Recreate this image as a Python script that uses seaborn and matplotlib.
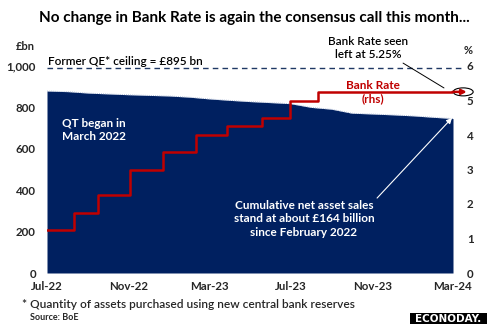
import matplotlib
matplotlib.use("Agg")
import matplotlib.pyplot as plt
import matplotlib.dates as mdates
from matplotlib.patches import Ellipse, Rectangle
import seaborn as sns
import pandas as pd

# ---- data ----
apf_months = pd.date_range("2022-07-01", "2024-03-01", freq="MS")
apf_stock = [879, 876, 869, 865, 861, 858, 855, 849, 841, 834, 828, 823,
             818, 800, 791, 772, 768, 764, 759, 752, 746]  # £bn

rate_dates = pd.to_datetime(["2022-07-01", "2022-08-10", "2022-09-16", "2022-11-02",
                             "2022-12-22", "2023-02-09", "2023-03-28", "2023-05-19",
                             "2023-07-01", "2023-08-12", "2024-03-01"])
bank_rate = [1.25, 1.75, 2.25, 3.0, 3.5, 4.0, 4.25, 4.5, 5.0, 5.25, 5.25]  # %

qe_ceiling_line = 990
xtick_dates = pd.to_datetime(["2022-07-01", "2022-11-01", "2023-03-01",
                              "2023-07-01", "2023-11-01", "2024-03-01"])
xtick_labels = ["Jul-22", "Nov-22", "Mar-23", "Jul-23", "Nov-23", "Mar-24"]
left_ticks = [0, 200, 400, 600, 800, 1000]
left_labels = ["0", "200", "400", "600", "800", "1,000"]
right_ticks = [0, 1, 2, 3, 4, 5, 6]

NAVY = "#002060"
RED = "#C00000"
FONT = ["Lato", "DejaVu Sans"]

sns.set_theme(style="white")
plt.rcParams["font.family"] = FONT

fig = plt.figure(figsize=(4.89, 3.26), dpi=100)
ax = fig.add_axes([47/489, 1-273/326, 406/489, 207/326])

df_apf = pd.DataFrame({"date": apf_months, "stock": apf_stock})
ax.fill_between(df_apf["date"], 0, df_apf["stock"], color=NAVY, linewidth=0)
sns.lineplot(data=df_apf, x="date", y="stock", ax=ax, color="#9fb0d0",
             linewidth=0.6, linestyle=(0, (1, 1.5)))

ax.set_xlim(apf_months[0], apf_months[-1])
ax.set_ylim(0, 1000)
ax.set_yticks(left_ticks)
ax.set_yticklabels(left_labels)
ax.set_xticks(xtick_dates)
ax.set_xticklabels(xtick_labels)
ax.set_xlabel("")
ax.set_ylabel("")
for s in ax.spines.values():
    s.set_visible(False)
ax.tick_params(axis="y", length=0, pad=8, labelsize=8.3)
ax.tick_params(axis="x", length=0, pad=6, labelsize=8.3)
for lab in ax.get_xticklabels() + ax.get_yticklabels():
    lab.set_fontweight("bold")

ax.axhline(qe_ceiling_line, xmin=0, xmax=1.022, color="#1F3864", lw=1,
           dashes=(4, 3), clip_on=False)

ax2 = ax.twinx()
df_rate = pd.DataFrame({"date": rate_dates, "rate": bank_rate})
sns.lineplot(data=df_rate, x="date", y="rate", ax=ax2, color=RED, linewidth=1.8,
             drawstyle="steps-post")
ax2.set_ylim(0, 6)
ax2.set_yticks(right_ticks)
ax2.set_xlabel("")
ax2.set_ylabel("")
for s in ax2.spines.values():
    s.set_visible(False)
ax2.tick_params(axis="y", length=0, pad=10, labelsize=8.3)
for lab in ax2.get_yticklabels():
    lab.set_fontweight("bold")
ax2.set_xlim(apf_months[0], apf_months[-1])

# red arrow and ellipse at the end
ytr = ax2.get_yaxis_transform()
ax2.annotate("", xy=(1.034, bank_rate[-1]), xytext=(0.999, bank_rate[-1]),
             xycoords=ytr, textcoords=ytr, annotation_clip=False,
             arrowprops=dict(arrowstyle="-|>", color=RED, lw=1.8,
                             mutation_scale=7, shrinkA=0, shrinkB=0))
ax2.add_patch(Ellipse((1.025, bank_rate[-1]), width=20/406, height=8/34.5,
                      transform=ytr, fill=False, edgecolor="black", lw=0.8,
                      clip_on=False))

# texts
fig.text(0.52, 1-18/326, "No change in Bank Rate is again the consensus call this month...",
         ha="center", va="center", fontsize=11, fontweight="bold", color="black")
fig.text(25/489, 1-47/326, "£bn", ha="center", va="center", fontsize=8, fontweight="bold")
fig.text(468/489, 1-50/326, "%", ha="center", va="center", fontsize=8, fontweight="bold")
ax.text(0.003, 1.02, "Former QE* ceiling = £895 bn", transform=ax.transAxes,
        ha="left", va="center", fontsize=8.5, fontweight="semibold", color="black")
ax.text(0.037, 0.691, "QT began in\nMarch 2022", transform=ax.transAxes, ha="left",
        va="center", fontsize=8.5, fontweight="bold", color="white", linespacing=1.3)
ax.text(0.633, 0.261, "Cumulative net asset sales\nstand at about £164 billion\nsince February 2022",
        transform=ax.transAxes, ha="center", va="center", fontsize=8.5,
        fontweight="bold", color="white", linespacing=1.3)
ax.annotate("", xy=(0.9975, 0.749), xytext=(0.813, 0.362), xycoords="axes fraction",
            textcoords="axes fraction",
            arrowprops=dict(arrowstyle="-|>", color="white", lw=0.8, mutation_scale=8,
                            shrinkA=0, shrinkB=0))
ax.text(0.803, 0.874, "Bank Rate\n(rhs)", transform=ax.transAxes, ha="center",
        va="center", fontsize=8.5, fontweight="bold", color=RED, linespacing=1.3)
ax.text(0.791, 1.087, "Bank Rate seen\nleft at 5.25%", transform=ax.transAxes,
        ha="center", va="center", fontsize=8.5, fontweight="semibold", color="black",
        linespacing=1.3)
ax.annotate("", xy=(0.9778, 0.894), xytext=(0.877, 1.014), xycoords="axes fraction",
            textcoords="axes fraction", annotation_clip=False,
            arrowprops=dict(arrowstyle="-", color="black", lw=0.7, shrinkA=0, shrinkB=0))

fig.text(22/489, 1-305/326, "* Quantity of assets purchased using new central bank reserves",
         ha="left", va="center", fontsize=8.6, fontweight="semibold")
fig.text(30/489, 1-318/326, "Source: BoE", ha="left", va="center", fontsize=6.5,
         fontweight="bold")

fig.patches.append(Rectangle((410/489, 2/326), 77/489, 11/326, transform=fig.transFigure,
                             facecolor="black", edgecolor="none"))
fig.text(448.5/489, 7.5/326, "ECONODAY.", ha="center", va="center", fontsize=7.5,
         fontweight="heavy", color="white", family=["DejaVu Sans"])

fig.savefig("out.png", dpi=100)
